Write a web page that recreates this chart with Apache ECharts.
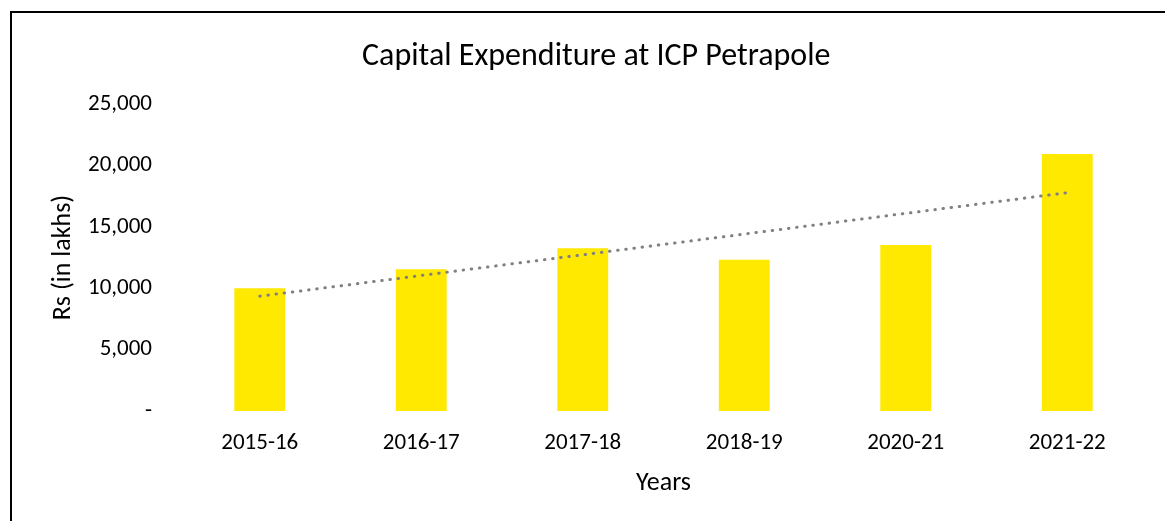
<!DOCTYPE html>
<html>
<head>
<meta charset="utf-8">
<script src="https://cdn.jsdelivr.net/npm/echarts@6/dist/echarts.min.js"></script>
<style>
html,body{margin:0;padding:0;background:#fff;}
#chart{width:1165px;height:521px;}
</style>
</head>
<body>
<div id="chart"></div>
<script>
// Data
const categories = ['2015-16', '2016-17', '2017-18', '2018-19', '2020-21', '2021-22'];
const capex = [10000, 11540, 13250, 12320, 13520, 20930];
// Linear trendline endpoints (first and last category)
const trendline = [9350, null, null, null, null, 17780];
const yTicks = [0, 5000, 10000, 15000, 20000, 25000];

const FONT = "Carlito, Lato, 'Liberation Sans', sans-serif";
const chart = echarts.init(document.getElementById('chart'), null, {renderer: 'canvas'});

function fmt(v) {
  if (v === 0) return '-';
  return v.toLocaleString('en-US');
}

chart.setOption({
  animation: false,
  backgroundColor: '#ffffff',
  title: {
    text: 'Capital Expenditure at ICP Petrapole',
    left: 357,
    top: 36,
    textStyle: {fontFamily: FONT, fontSize: 32, fontWeight: 'normal', color: '#000'}
  },
  graphic: [{
    type: 'rect',
    shape: {x: 11, y: 12, width: 3000, height: 3000},
    style: {fill: 'none', stroke: '#000', lineWidth: 2},
    silent: true
  }],
  grid: {left: 179, right: 17, top: 104, bottom: 110},
  xAxis: {
    type: 'category',
    data: categories,
    axisLine: {show: false},
    axisTick: {show: false},
    axisLabel: {fontFamily: FONT, fontSize: 23, color: '#000', margin: 21},
    name: 'Years',
    nameLocation: 'middle',
    nameGap: 59,
    nameTextStyle: {fontFamily: FONT, fontSize: 26, color: '#000'}
  },
  yAxis: {
    type: 'value',
    min: yTicks[0],
    max: yTicks[yTicks.length - 1],
    interval: 5000,
    axisLine: {show: false},
    axisTick: {show: false},
    splitLine: {show: false},
    axisLabel: {fontFamily: FONT, fontSize: 23, color: '#000', margin: 27, formatter: fmt},
    name: 'Rs (in lakhs)',
    nameLocation: 'middle',
    nameGap: 103,
    nameRotate: 90,
    nameTextStyle: {fontFamily: FONT, fontSize: 26, color: '#000'}
  },
  series: [{
    type: 'bar',
    data: capex,
    barWidth: '31.5%',
    itemStyle: {color: '#FFE900'}
  }, {
    type: 'line',
    data: trendline,
    connectNulls: true,
    symbol: 'none',
    lineStyle: {color: '#808080', width: 3, type: [0.5, 7.7], cap: 'round'},
    z: 5
  }]
});
</script>
</body>
</html>
